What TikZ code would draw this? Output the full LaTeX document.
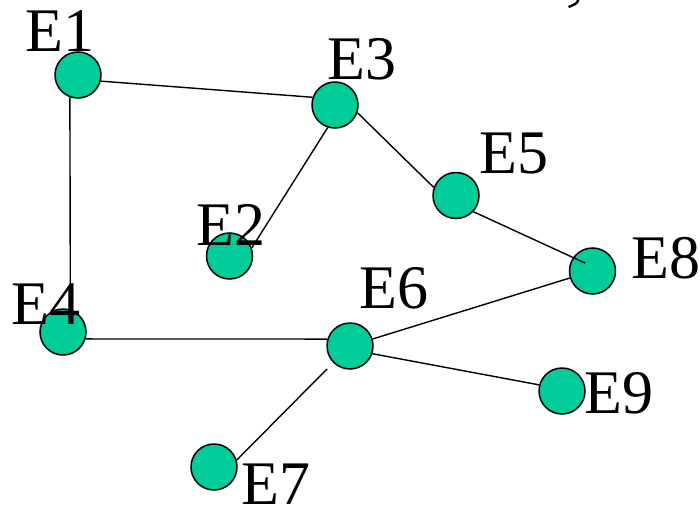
\documentclass[tikz,border=0pt]{standalone}
\usepackage{fontspec}
\setmainfont{Liberation Serif}
\definecolor{vfill}{RGB}{0,204,153}
\tikzset{
  vertex/.style={circle, draw=black, line width=1.5pt, fill=vfill, minimum size=46pt, inner sep=0pt},
  vlabel/.style={anchor=base west, inner sep=0pt, font=\fontsize{62}{62}\selectfont},
  edge/.style={draw=black, line width=1.4pt}
}
\begin{document}
\begin{tikzpicture}[x=1pt, y=-1pt]
\useasboundingbox (0,0) rectangle (700,505);
% vertices
\node[vertex] (E1) at (78,75) {};
\node[vertex] (E3) at (335,105) {};
\node[vertex] (E2) at (229.5,256) {};
\node[vertex] (E4) at (63,332) {};
\node[vertex] (E5) at (456,195.5) {};
\node[vertex] (E6) at (350,346) {};
\node[vertex] (E8) at (592.5,271) {};
\node[vertex] (E9) at (562,391) {};
\node[vertex] (E7) at (214,467) {};
% helper points
\coordinate (E8in) at ([shift={(-7.5,-8)}]E8.center);
\coordinate (E6gap) at ([shift={(-23,23)}]E6.center);
% edges
\draw[edge] (E1.-15) -- (E3.161);
\draw[edge] (E1.-110) -- (E4.72);
\draw[edge] (E3.-108) -- (E2.20);
\draw[edge] (E3.-19) -- (E5.160);
\draw[edge] (E5.-43) -- (E8in);
\draw[edge] (E4.-17) -- (E6.163);
\draw[edge] (E6) -- (E8);
\draw[edge] (E6.-19) -- (E9.165);
\draw[edge] (E6gap) -- (E7.17);
% labels
\node[vlabel] (L1) at (25.3,52) {E1};
\node[vlabel] (L3) at (327.3,80) {E3};
\node[vlabel] (L2) at (196.3,245) {E2};
\node[vlabel] (L4) at (11.3,324) {E4};
\node[vlabel] (L5) at (479.3,173) {E5};
\node[vlabel] (L6) at (359.3,308) {E6};
\node[vlabel] (L8) at (631.3,278) {E8};
\node[vlabel] (L9) at (584.3,413) {E9};
\node[vlabel] (L7) at (241.3,504) {E7};
% clipped stroke at top edge
\draw[line width=2.4pt] (578.5,0) .. controls (576,4) .. (568.5,7);
\end{tikzpicture}
\end{document}
